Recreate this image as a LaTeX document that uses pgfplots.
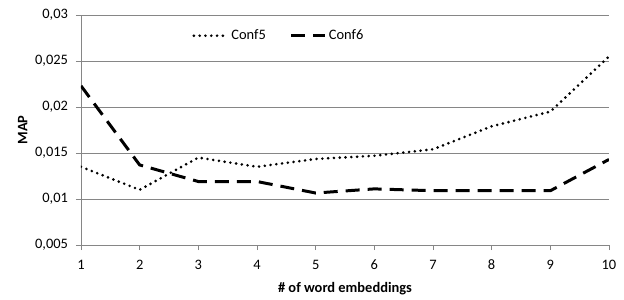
\documentclass[border=0pt]{standalone}
\usepackage{fontspec}
\setmainfont{Carlito}
\usepackage{pgfplots}
\pgfplotsset{compat=1.18}
\definecolor{gridc}{RGB}{134,134,134}
\begin{document}
\fontsize{14.5}{16}\selectfont
\begin{tikzpicture}
\path[use as bounding box] (-81bp,-55bp) rectangle (543bp,245bp);
\begin{axis}[
  at={(0,0)}, anchor=south west,
  scale only axis, width=528bp, height=230bp,
  xmin=1, xmax=10, ymin=0.005, ymax=0.03,
  xtick={1,...,10},
  ytick={0.005,0.01,0.015,0.02,0.025,0.03},
  yticklabels={{0,005},{0,01},{0,015},{0,02},{0,025},{0,03}},
  scaled y ticks=false,
  /pgf/number format/assume math mode=true,
  axis x line*=bottom, axis y line*=left,
  axis line style={gridc, line width=0.8pt, -},
  ymajorgrids, major grid style={gridc, line width=0.8pt},
  tick style={gridc, line width=0.8pt},
  tick align=outside, major tick length=5bp,
  xticklabel style={yshift=-5bp},
  yticklabel style={xshift=-3bp},
  tick label style={font=\fontsize{14.5}{16}\selectfont},
  xlabel={\textbf{\# of word embeddings}},
  ylabel={\textbf{MAP}},
  label style={font=\fontsize{14.5}{16}\selectfont},
  xlabel style={yshift=-3bp},
  ylabel style={yshift=-2bp},
  legend columns=2,
  legend style={draw=none, fill=none, at={(0.205,0.91)}, anchor=west,
    font=\fontsize{14.5}{16}\selectfont,
    /tikz/every even column/.append style={column sep=22bp}},
  legend image code/.code={\draw[#1] (0bp,0bp) -- (34bp,0bp);},
]
\addplot[black, line width=2.9pt, line cap=round, dash pattern=on 0pt off 5.8bp] coordinates {
(1,0.0135) (2,0.011) (3,0.0145) (4,0.0135) (5,0.01435) (6,0.0147) (7,0.0154) (8,0.0179) (9,0.0195) (10,0.0255)};
\addlegendentry{Conf5}
\addplot[black, line width=3pt, dash pattern=on 14bp off 8bp] coordinates {
(1,0.0223) (2,0.0137) (3,0.0119) (4,0.0119) (5,0.01065) (6,0.0111) (7,0.0109) (8,0.0109) (9,0.0109) (10,0.0143)};
\addlegendentry{Conf6}
\end{axis}
\end{tikzpicture}
\end{document}
